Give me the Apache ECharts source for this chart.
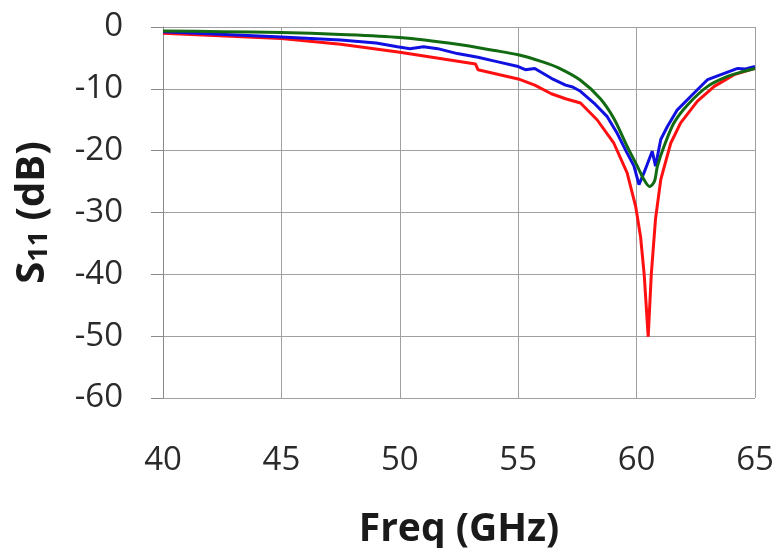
<!DOCTYPE html>
<html><head><meta charset="utf-8">
<script src="https://cdn.jsdelivr.net/npm/echarts@6/dist/echarts.min.js"></script>
<style>html,body{margin:0;padding:0;background:#fff}#c{width:777px;height:548px}</style>
</head><body><div id="c"></div>
<script>
const xTicks = [40, 45, 50, 55, 60, 65];
const yTicks = [0, -10, -20, -30, -40, -50, -60];

const greenFreq = [40, 42.5, 45, 47.5, 50, 52.43, 54, 55, 56, 56.7, 57.63, 58.47, 59.04, 59.6, 60.03, 60.3, 60.55, 60.75, 60.88, 61.16, 61.58, 62.15, 63.0, 63.84, 64.5, 65];
const greenDb   = [-0.65, -0.75, -0.9, -1.2, -1.7, -2.8, -3.8, -4.5, -5.6, -6.6, -8.6, -11.6, -14.8, -19.3, -22.5, -24.6, -25.8, -25.0, -22.5, -19.3, -15.5, -12.6, -9.6, -8.0, -7.2, -6.7];

const redFreq = [40, 45, 47.5, 50, 51.7, 53.2, 53.3, 55, 55.7, 56.4, 57, 57.63, 58.33, 59.04, 59.6, 59.96, 60.17, 60.32, 60.49, 60.62, 60.8, 61.02, 61.44, 61.86, 62.57, 63.28, 64.12, 65];
const redDb   = [-1.0, -1.85, -2.8, -4.1, -5.1, -6.0, -6.9, -8.4, -9.4, -10.8, -11.6, -12.3, -15.0, -18.8, -23.6, -29.0, -34.0, -40.0, -50.1, -40.0, -31.0, -24.7, -18.8, -15.5, -12.0, -9.6, -7.7, -6.7];

const blueFreq = [40, 45, 47.5, 49, 49.9, 50.43, 51, 51.6, 52.43, 53.3, 54.1, 55, 55.3, 55.7, 56.4, 57, 57.3, 57.63, 58.2, 58.76, 59.18, 59.6, 59.89, 60.1, 60.31, 60.66, 60.8, 61.02, 61.3, 61.72, 62.29, 63.0, 63.56, 64.27, 64.6, 65];
const blueDb   = [-0.75, -1.6, -2.1, -2.6, -3.2, -3.5, -3.2, -3.5, -4.3, -4.9, -5.6, -6.4, -6.9, -6.7, -8.3, -9.4, -9.7, -10.4, -12.3, -14.5, -17.2, -20.4, -22.5, -25.5, -23.6, -20.1, -22.5, -18.2, -16.1, -13.4, -11.2, -8.5, -7.7, -6.7, -6.8, -6.4];

const zip = (a, b) => a.map((v, i) => [v, b[i]]);
const font = "'Open Sans', 'Liberation Sans', sans-serif";

const chart = echarts.init(document.getElementById('c'), null, {renderer: 'canvas'});
chart.setOption({
  animation: false,
  backgroundColor: '#fff',
  grid: {left: 163, right: 22, top: 27, bottom: 150, containLabel: false, outerBoundsMode: 'none'},
  xAxis: {
    type: 'value', min: 40, max: 65, interval: 5,
    name: 'Freq (GHz)', nameLocation: 'middle', nameGap: 112,
    nameTextStyle: {fontFamily: font, fontSize: 39, fontWeight: 'bold', color: '#1a1a1a'},
    axisLine: {show: false},
    axisTick: {show: false},
    axisLabel: {fontFamily: font, fontSize: 33, color: '#2a2a2a', margin: 46,
      formatter: v => xTicks.includes(v) ? String(v) : ''},
    splitLine: {show: true, lineStyle: {color: '#a0a0a0', width: 1}}
  },
  yAxis: {
    type: 'value', min: -60, max: 0, interval: 10,
    name: '{s|S}{sub|11}{s| (dB)}', nameLocation: 'middle', nameGap: 110, nameRotate: 90,
    nameTextStyle: {fontFamily: font, color: '#1a1a1a',
      rich: {s: {fontFamily: font, fontSize: 40, fontWeight: 'bold', color: '#1a1a1a'},
             sub: {fontFamily: font, fontSize: 27, fontWeight: 'bold', color: '#1a1a1a', verticalAlign: 'bottom', padding: [14, 0, 0, 0]}}},
    axisLine: {show: true, lineStyle: {color: '#8a8a8a', width: 1}},
    axisTick: {show: true, inside: false, length: 12, lineStyle: {color: '#8a8a8a'}},
    axisLabel: {fontFamily: font, fontSize: 33, color: '#2a2a2a', margin: 40,
      formatter: v => yTicks.includes(v) ? String(v) : ''},
    splitLine: {show: true, lineStyle: {color: '#a0a0a0', width: 1}}
  },
  series: [
    {type: 'line', data: zip(redFreq, redDb), showSymbol: false, lineStyle: {color: '#ff1010', width: 3}, z: 2},
    {type: 'line', data: zip(blueFreq, blueDb), showSymbol: false, lineStyle: {color: '#1010e0', width: 3}, z: 3},
    {type: 'line', data: zip(greenFreq, greenDb), showSymbol: false, smooth: 0.3, lineStyle: {color: '#126b12', width: 3}, z: 4}
  ]
});
</script></body></html>
